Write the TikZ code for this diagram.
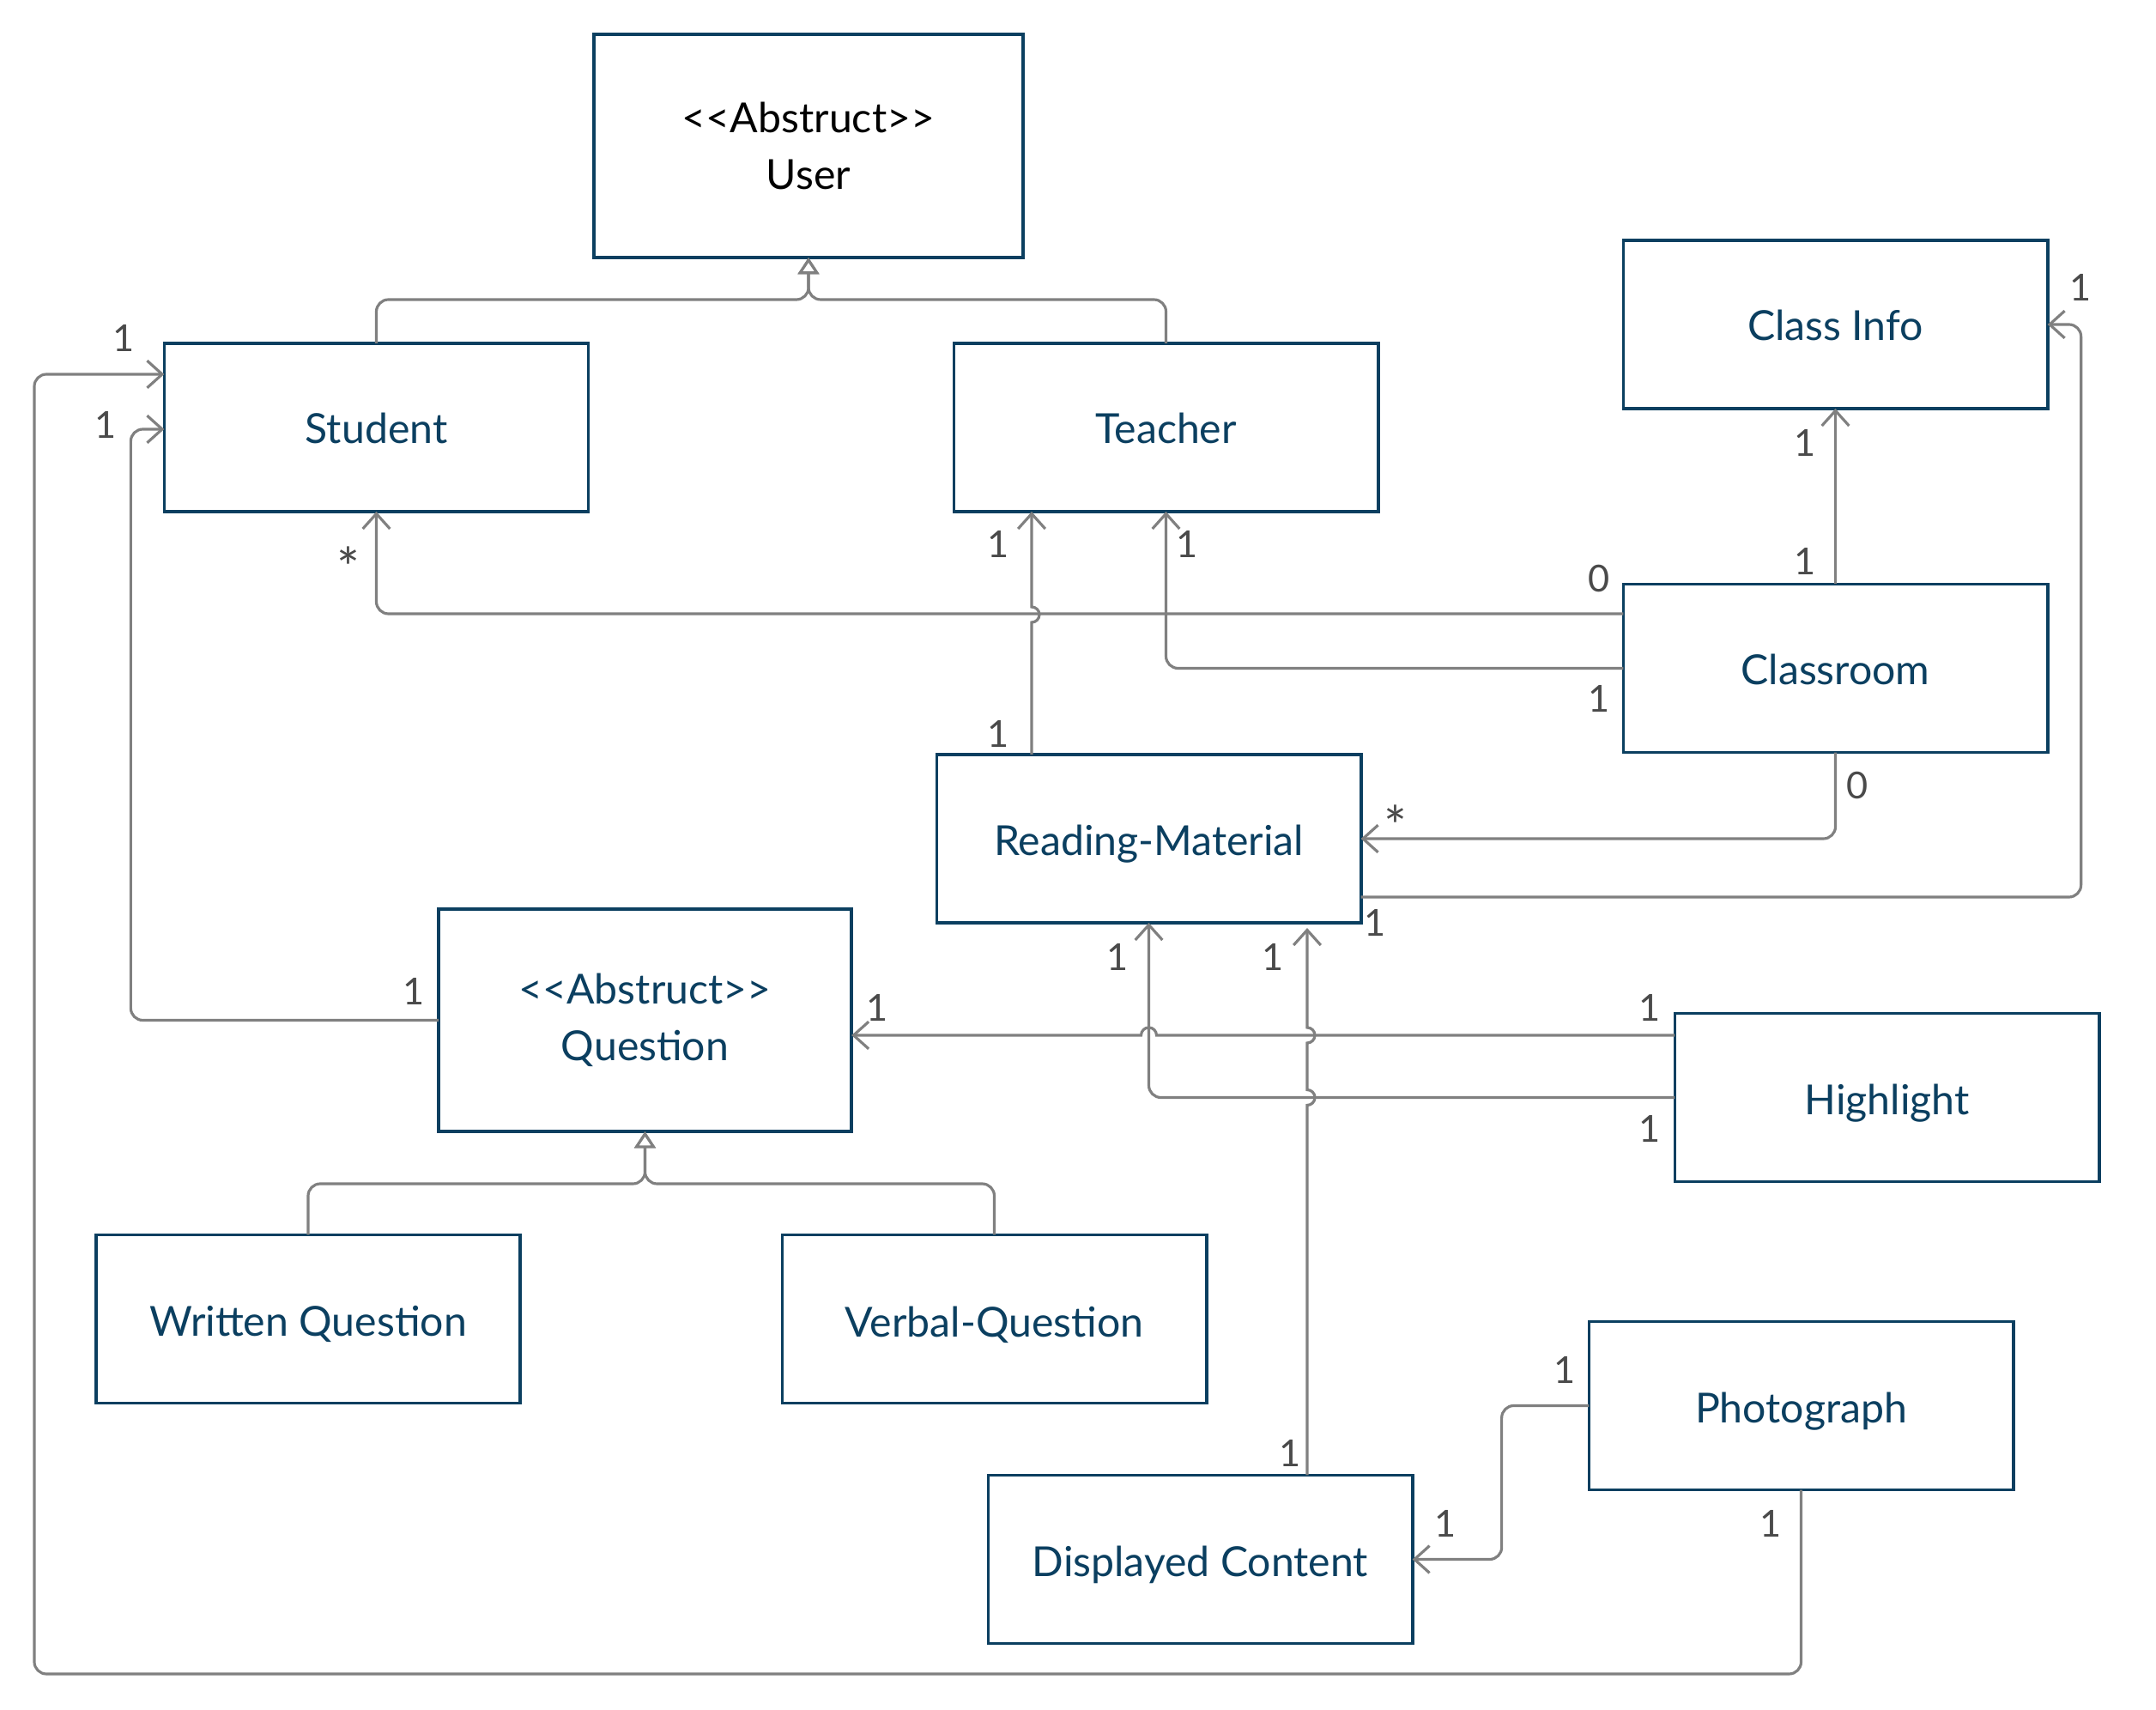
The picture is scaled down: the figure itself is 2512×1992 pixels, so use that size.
\documentclass[tikz,border=0pt]{standalone}
\usepackage{fontspec}
\setmainfont{Lato}
\usetikzlibrary{arrows.meta,calc}
\definecolor{boxc}{HTML}{0B3F60}
\definecolor{linec}{HTML}{808080}
\definecolor{labc}{HTML}{4A4A4A}
\newcommand\lowered[2]{\raisebox{-#1}[\height][\depth]{#2}}
\begin{document}
\begin{tikzpicture}[x=0.01cm,y=-0.01cm,
  umlclass/.style={draw=boxc,line width=1.05pt,fill=white,minimum width=4.94cm,minimum height=1.96cm,
    inner sep=0pt,outer sep=0pt,text=boxc,font=\fontsize{13.7}{18.9}\selectfont,align=center},
  assoc/.style={draw=linec,line width=0.9pt,rounded corners=4pt,-{Straight Barb[length=5pt,width=9pt]}},
  gen/.style={draw=linec,line width=0.9pt,rounded corners=4pt,-{Triangle[open,length=5.5pt,width=7pt,fill=white]}},
  mult/.style={text=labc,font=\fontsize{12.3}{14}\selectfont,inner sep=0pt},
  star/.style={text=labc,font=\fontsize{18}{18}\selectfont,inner sep=0pt,anchor=north}]
\fill[white] (0,0) rectangle (2512,1992);
\useasboundingbox (0,0) rectangle (2512,1992);

% classes
\node[umlclass,minimum width=5cm,minimum height=2.6cm,text=black] (user) at (942,170) {<{}<Abstruct>{}>\\User};
\node[umlclass] (stu) at (438.5,498) {\lowered{0.4pt}{Student}};
\node[umlclass] (tea) at (1358.5,498) {\lowered{0.4pt}{Teacher}};
\node[umlclass] (ci) at (2138.5,378) {\lowered{0.4pt}{Class Info}};
\node[umlclass] (cr) at (2138.5,778.5) {\lowered{0.4pt}{Classroom}};
\node[umlclass] (rm) at (1338.5,977) {\lowered{1.8pt}{Reading-Material}};
\node[umlclass,minimum width=4.81cm,minimum height=2.59cm] (q) at (751.5,1188.5) {<{}<Abstruct>{}>\\Question};
\node[umlclass] (hl) at (2198.5,1278.5) {\lowered{1.8pt}{Highlight}};
\node[umlclass] (wq) at (359,1536.5) {\lowered{1.8pt}{Written Question}};
\node[umlclass] (vq) at (1158.5,1536.5) {\lowered{1.8pt}{Verbal-Question}};
\node[umlclass] (ph) at (2098.5,1637.5) {\lowered{1.8pt}{Photograph}};
\node[umlclass] (dc) at (1398.5,1816.5) {\lowered{1.8pt}{Displayed Content}};

% helper coordinates
\coordinate (gU) at (942,349);
\coordinate (gQ) at (751.5,1379);
\coordinate (hA) at (1202,716);
\coordinate (hB) at (1338.5,1206);
\coordinate (hC) at (1523,1278.5);
\coordinate (hD) at (1523,1206);
\coordinate (loop) at (40,1950);

% generalizations
\draw[gen] (stu.north) |- (gU) -- (user.south);
\draw[gen] (tea.north) |- (gU) -- (user.south);
\draw[gen] (wq.north) |- (gQ) -- (q.south);
\draw[gen] (vq.north) |- (gQ) -- (q.south);

% associations
\draw[assoc] ($(cr.west)+(0,-63.5)$) -| (stu.south);
\draw[assoc] (cr.west) -| (tea.south);
\draw[assoc,sharp corners] (rm.north -| hA) -- ($(hA)+(0,9)$) arc[start angle=90,end angle=-90,radius=9] -- (tea.south -| hA);
\draw[assoc] (cr.north) -- (ci.south);
\draw[assoc] (cr.south) |- (rm.east);
\draw[assoc] ($(rm.east)+(0,68)$) -| ($(ci.east)+(39,0)$) -- (ci.east);
\draw[assoc,sharp corners] ($(hl.west)+(0,-72.5)$) -- ($(hB)+(9,0)$) arc[start angle=0,end angle=-180,radius=9] -- (q.east |- hB);
\draw[assoc] (hl.west) -| (rm.south);
\draw[assoc,sharp corners] (dc.north -| hC) -- ($(hC)+(0,9)$) arc[start angle=90,end angle=-90,radius=9]
   -- ($(hD)+(0,9)$) arc[start angle=90,end angle=-90,radius=9] -- ($(rm.south -| hC)+(0,6)$);
\draw[assoc] (ph.west) -| ($(dc.east)+(104,0)$) -- (dc.east);
\draw[assoc] (ph.south) |- (loop) |- ($(stu.west)+(0,-62)$);
\draw[assoc] (q.west) -| ($(stu.west)+(-39,2)$) -- ($(stu.west)+(0,2)$);

% multiplicities
\node[mult] (m1) at (144,394) {1};
\node[mult] (m2) at (123,495) {1};
\node[star] (m3) at (406,636) {*};
\node[mult] (m4) at (1163,634) {1};
\node[mult] (m5) at (1383,634) {1};
\node[mult] (m6) at (1863,674) {0};
\node[mult] (m7) at (1863,814) {1};
\node[mult] (m8) at (1163,855) {1};
\node[mult] (m9) at (2103,516) {1};
\node[mult] (m10) at (2103,654) {1};
\node[mult] (m11) at (2424,335) {1};
\node[mult] (m12) at (2164,915) {0};
\node[star] (m13) at (1626,937) {*};
\node[mult] (m14) at (1602,1075) {1};
\node[mult] (m15) at (1302,1115) {1};
\node[mult] (m16) at (1483,1115) {1};
\node[mult] (m17) at (482,1155) {1};
\node[mult] (m18) at (1022,1174) {1};
\node[mult] (m19) at (1922,1174) {1};
\node[mult] (m20) at (1922,1315) {1};
\node[mult] (m21) at (1823,1596) {1};
\node[mult] (m22) at (1503,1693) {1};
\node[mult] (m23) at (1684,1775) {1};
\node[mult] (m24) at (2063,1775) {1};
\end{tikzpicture}
\end{document}
